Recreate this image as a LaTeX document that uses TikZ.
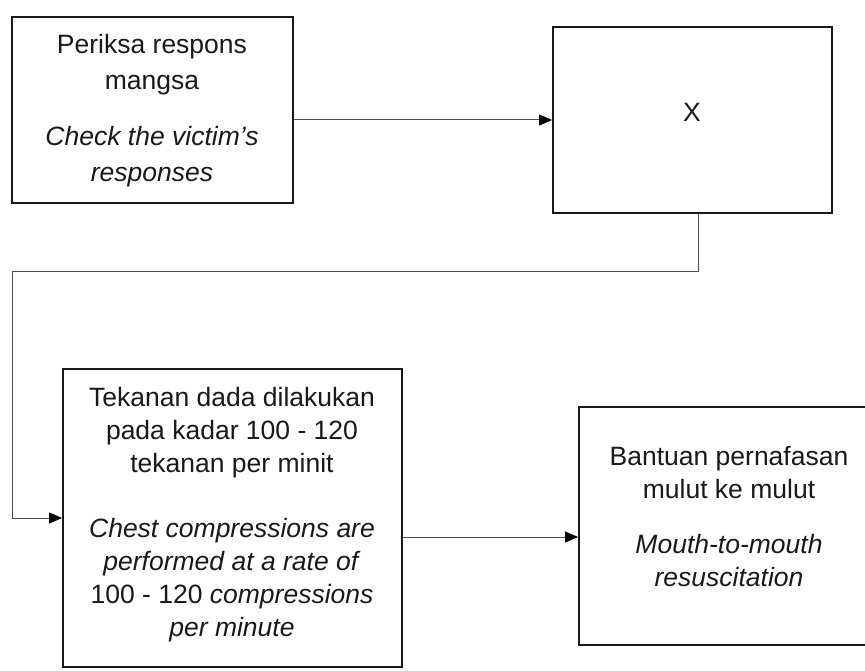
\documentclass[tikz,border=0pt]{standalone}
\usepackage{fontspec}
\setmainfont{Liberation Sans}
\usetikzlibrary{arrows.meta,calc}
\begin{document}
\begin{tikzpicture}[x=1pt,y=-1pt,
 box/.style={draw=black!90, line width=1.8pt, inner sep=0pt},
 txt/.style={align=center, font=\fontsize{26.5}{33}\selectfont, text=black!90, inner sep=0pt},
 conn/.style={draw=black!70, line width=1pt, -{Triangle[length=13pt,width=11pt,color=black]}}]
\useasboundingbox (0,0) rectangle (865,671);
\node[box, minimum width=281pt, minimum height=186pt] (b1) at (152.5,110) {};
\node[box, minimum width=279pt, minimum height=186pt] (b2) at (692.5,120) {};
\node[box, minimum width=339pt, minimum height=298pt] (b3) at (232.5,518) {};
\node[box, minimum width=301pt, minimum height=238pt] (b4) at (729.5,526) {};

\node[txt, font=\fontsize{26.5}{36}\selectfont] (t1) at (152,111) {Periksa respons\\mangsa\\[20pt]\textit{Check the victim's}\\\textit{responses}};
\node[txt] (t2) at (692,112) {X};
\node[txt] (t3) at (232,515) {Tekanan dada dilakukan\\pada kadar 100 - 120\\tekanan per minit\\[32pt]\textit{Chest compressions are}\\\textit{performed at a rate of}\\100 - 120 \textit{compressions}\\\textit{per minute}};
\node[txt] (t4) at (729,517) {Bantuan pernafasan\\mulut ke mulut\\[22pt]\textit{Mouth-to-mouth}\\\textit{resuscitation}};

\coordinate (k1) at (12,272);
\draw[conn] (b1.east |- b2.west) -- (b2.west);
\draw[conn] ([xshift=5.5pt]b2.south) |- (k1) |- (b3.west);
\draw[conn] ($(b3.east |- b4.west)+(0,11)$) -- ($(b4.west)+(0,11)$);
\end{tikzpicture}
\end{document}
